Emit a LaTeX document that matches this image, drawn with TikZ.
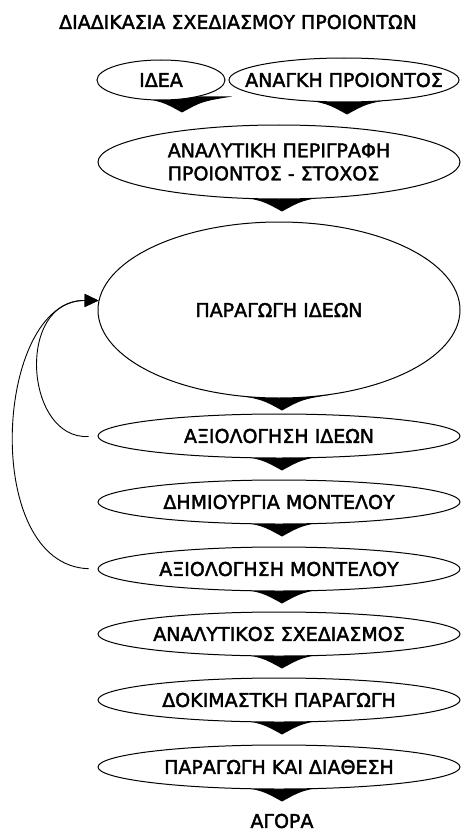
\documentclass[tikz,border=0pt]{standalone}
\usepackage{fontspec}
\setmainfont{DejaVu Sans}[BoldFont={DejaVu Sans}, BoldFeatures={FakeBold=2}]
\usetikzlibrary{arrows.meta,calc,shapes.geometric}
\pgfdeclarelayer{bg}
\pgfsetlayers{bg,main}
\newcommand\dartbelow[2][3]{%
  \fill[dart] let \p1=($(#2.south)+(#1,0)$) in
   ({\x1-50pt},{\y1+4pt}) .. controls ({\x1-20pt},{\y1-1pt}) .. (\x1,{\y1-12pt})
   .. controls ({\x1+20pt},{\y1-1pt}) .. ({\x1+50pt},{\y1+4pt}) -- cycle;}
\begin{document}
\begin{tikzpicture}[x=1pt,y=-1pt,
  txt/.style={font=\fontsize{19}{23}\selectfont\bfseries, inner sep=0pt, text=black},
  oval/.style={txt, ellipse, draw=black, fill=white, line width=1pt, inner xsep=-40pt},
  dart/.style={fill=black},
  fb/.style={draw=black, line width=0.9pt, -{Triangle[length=14pt,width=13pt]}}]
\useasboundingbox (0,0) rectangle (461,832);
\begin{pgfonlayer}{bg}
  \fill[white] (0,0) rectangle (461,832);
\end{pgfonlayer}

\node[txt] (title) at (238,22) {ΔΙΑΔΙΚΑΣΙΑ ΣΧΕΔΙΑΣΜΟΥ ΠΡΟΙΟΝΤΩΝ};

\node[oval, inner xsep=-10pt, minimum width=128pt, minimum height=40pt] (idea) at (161,80) {ΙΔΕΑ};
\node[oval, minimum width=230pt, minimum height=44pt] (need) at (344,80) {ΑΝΑΓΚΗ ΠΡΟΙΟΝΤΟΣ};
\node[oval, minimum width=362pt, minimum height=74pt, align=left] (desc) at (279,162) {ΑΝΑΛΥΤΙΚΗ ΠΕΡΙΓΡΑΦΗ\\ΠΡΟΙΟΝΤΟΣ - ΣΤΟΧΟΣ};
\node[oval, minimum width=362pt, minimum height=176pt] (gen) at (279,310) {ΠΑΡΑΓΩΓΗ ΙΔΕΩΝ};
\node[oval, minimum width=362pt, minimum height=44pt] (evi) at (279,436) {ΑΞΙΟΛΟΓΗΣΗ ΙΔΕΩΝ};
\node[oval, minimum width=362pt, minimum height=44pt] (model) at (279,502) {ΔΗΜΙΟΥΡΓΙΑ ΜΟΝΤΕΛΟΥ};
\node[oval, minimum width=362pt, minimum height=44pt] (evm) at (279,569) {ΑΞΙΟΛΟΓΗΣΗ ΜΟΝΤΕΛΟΥ};
\node[oval, minimum width=362pt, minimum height=44pt] (design) at (279,634) {ΑΝΑΛΥΤΙΚΟΣ ΣΧΕΔΙΑΣΜΟΣ};
\node[oval, minimum width=362pt, minimum height=44pt] (trial) at (279,700) {ΔΟΚΙΜΑΣΤΚΗ ΠΑΡΑΓΩΓΗ};
\node[oval, minimum width=362pt, minimum height=44pt] (prod) at (279,767) {ΠΑΡΑΓΩΓΗ ΚΑΙ ΔΙΑΘΕΣΗ};
\node[txt] (market) at (282,821) {ΑΓΟΡΑ};

\begin{pgfonlayer}{bg}
  \dartbelow[21]{idea}
  \dartbelow{need}
  \dartbelow{desc}
  \dartbelow{gen}
  \dartbelow{evi}
  \dartbelow{model}
  \dartbelow{evm}
  \dartbelow{design}
  \dartbelow{trial}
  \dartbelow{prod}
\end{pgfonlayer}

\draw[fb, shorten <=9pt] (evi.west) .. controls (25,440) and (15,300) .. (gen.177);
\draw[fb, shorten <=9pt] (evm.west) .. controls (-20,565) and (-5,300) .. (gen.177);
\end{tikzpicture}
\end{document}
